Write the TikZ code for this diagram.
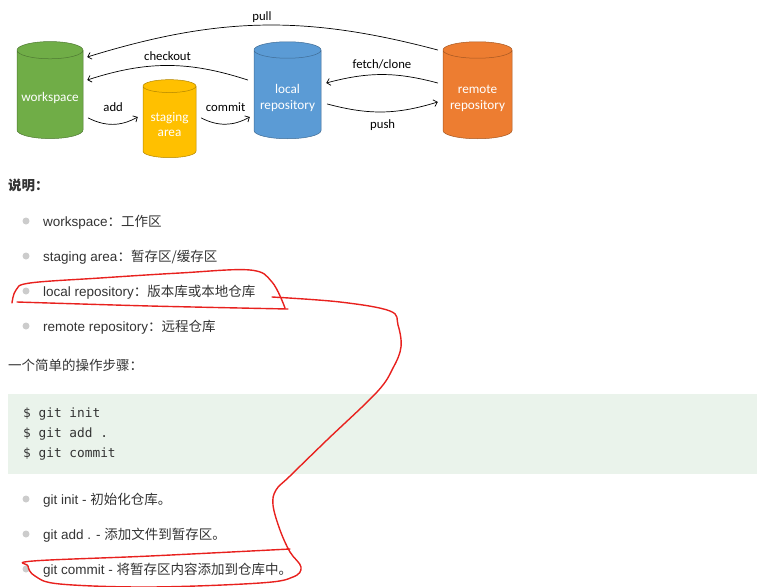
\documentclass[tikz,border=0pt]{standalone}
\usepackage{fontspec}
\setmainfont{Liberation Sans}
\setmonofont{DejaVu Sans Mono}
\newfontfamily\cjk{Noto Sans CJK SC}
\newfontfamily\repofont{Carlito}
\usetikzlibrary{shapes.geometric,arrows.meta}
\definecolor{wsgreen}{HTML}{70AD47}
\definecolor{stgyellow}{HTML}{FFC000}
\definecolor{locblue}{HTML}{5B9BD5}
\definecolor{remorange}{HTML}{ED7D31}
\definecolor{textgray}{HTML}{333333}
\definecolor{bulletgray}{HTML}{CCCCCC}
\definecolor{codebg}{HTML}{EAF3EB}
\definecolor{penred}{HTML}{E8211E}
\begin{document}
\begin{tikzpicture}[x=1pt, y=-1pt, line join=round, line cap=round, >={Straight Barb[length=3.5pt,width=7pt]}]
	\tikzset{
		repo/.style={cylinder, shape border rotate=90, aspect=0.3, draw=#1!70!black, fill=#1,
			text=white, align=center, inner sep=0pt, line width=0.5pt,
			font=\repofont\fontsize{13.2}{16}\selectfont},
		flow/.style={->, line width=0.7pt},
		lbl/.style={font=\repofont\fontsize{12.7}{15}\selectfont, text=black},
		dot/.style={circle, fill=bulletgray, inner sep=0pt, minimum size=7pt},
		item/.style={anchor=base west, inner sep=0pt, text=textgray, font=\fontsize{13.5}{16}\selectfont},
		code/.style={anchor=base west, inner sep=0pt, text=textgray, font=\ttfamily\fontsize{12.8}{15}\selectfont},
		pen/.style={draw=penred, line width=1.4pt}
	}
	\useasboundingbox (0,0) rectangle (757,586);
	% the four areas
	\node[repo=wsgreen, minimum width=66pt, minimum height=97pt, text height=17pt, text depth=3pt] (work) at (50,94.5) {workspace};
	\node[repo=stgyellow, minimum width=53pt, minimum height=78pt, aspect=0.34, text height=31pt, text depth=3pt,
		font=\repofont\fontsize{13.2}{15}\selectfont] (stage) at (169.5,122) {staging\\area};
	\node[repo=locblue, minimum width=67pt, minimum height=97pt, text height=32pt, text depth=3pt] (local) at (287.5,94.5) {local\\repository};
	\node[repo=remorange, minimum width=69pt, minimum height=97pt, text height=32pt, text depth=3pt] (remote) at (477.5,94.5) {remote\\repository};
	% commands
	\draw[flow] ([xshift=-5pt,yshift=44.5pt]remote.west) to[bend right=16] node[lbl, above=-1pt] (pull) {pull} ([xshift=4pt,yshift=37.5pt]work.east);
	\draw[flow] ([xshift=-6pt,yshift=14.5pt]local.west) to[bend right=18] node[lbl, above=1pt] (checkout) {checkout} ([xshift=4pt,yshift=14.5pt]work.east);
	\draw[flow] ([xshift=5pt,yshift=-23.5pt]work.east) to[bend right=28] node[lbl, above=9pt] (add) {add} ([xshift=-5pt,yshift=5pt]stage.west);
	\draw[flow] ([xshift=5pt,yshift=4pt]stage.east) to[bend right=28] node[lbl, above=9pt] (commit) {commit} ([xshift=-4pt,yshift=-22.5pt]local.west);
	\draw[flow] ([xshift=-5pt,yshift=11.5pt]remote.west) to[bend right=15] node[lbl, above=2pt] (fetch) {fetch/clone} ([xshift=5pt,yshift=11.5pt]local.east);
	\draw[flow] ([xshift=6pt,yshift=-9.5pt]local.east) to[bend right=16] node[lbl, below=4pt] (push) {push} ([xshift=-5pt,yshift=-7.5pt]remote.west);
	% notes
	\node[item, font=\cjk\bfseries\fontsize{13.5}{16}\selectfont] (note) at (8,190) {说明：};
	\foreach \name/\yy/\txt in {ws/221/{workspace{\cjk ：工作区}},
		sa/256/{staging area{\cjk ：暂存区/缓存区}},
		lr/291/{local repository{\cjk ：版本库或本地仓库}},
		rr/326/{remote repository{\cjk ：远程仓库}}}{
		\node[dot] (\name dot) at (26,\yy) {};
		\node[item] (\name) at (43,\yy+5) {\txt};
	}
	\node[item, font=\cjk\fontsize{13.5}{16}\selectfont] (steps) at (8,370) {一个简单的操作步骤：};
	\node[fill=codebg, anchor=north west, inner sep=0pt, minimum width=749pt, minimum height=80pt] (codebox) at (8,394) {};
	\node[code] (init) at (23,417.5) {\$ git init};
	\node[code] (addall) at (23,437.5) {\$ git add .};
	\node[code] (commitall) at (23,457.5) {\$ git commit};
	\foreach \name/\yy/\txt in {gi/499/{git init - {\cjk 初始化仓库。}},
		ga/534/{git add . - {\cjk 添加文件到暂存区。}},
		gc/569/{git commit - {\cjk 将暂存区内容添加到仓库中。}}}{
		\node[dot] (\name dot) at (26,\yy) {};
		\node[item] (\name) at (43,\yy+5) {\txt};
	}
	% red pen marks
	\draw[pen] plot[smooth, tension=0.6] coordinates {(12,303) (16,290) (30,283) (100,278) (180,273) (250,270) (272,282) (285,308)};
	\draw[pen] plot[smooth] coordinates {(17,302) (150,306) (288,309)};
	\draw[pen] plot[smooth, tension=0.6] coordinates {(272,297) (340,302) (390,311) (398,325) (401,347) (393,368) (377,392)
		(327,440) (290,476) (276,490) (273,505) (280,530) (290,552) (301,567) (293,577) (260,583) (150,587)
		(60,584) (35,576) (28,566) (33,561) (150,556) (290,549)};
\end{tikzpicture}
\end{document}
